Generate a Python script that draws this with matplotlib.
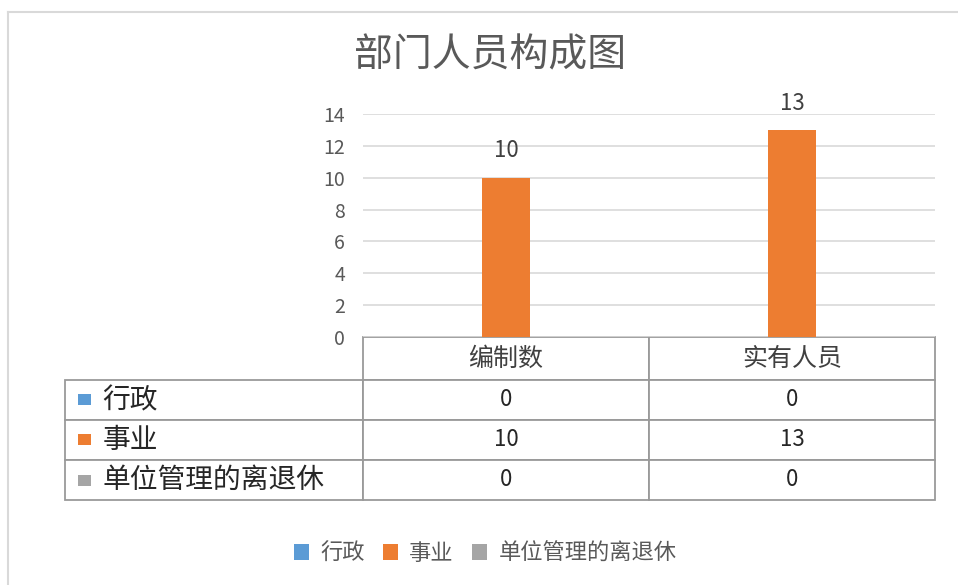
import matplotlib
matplotlib.use("Agg")
import matplotlib.pyplot as plt
import numpy as np
from matplotlib.patches import Rectangle
from matplotlib.lines import Line2D

plt.rcParams['font.family'] = ['Noto Sans CJK SC', 'DejaVu Sans']

# ---- data ----
title = "部门人员构成图"
categories = ["编制数", "实有人员"]
series_names = ["行政", "事业", "单位管理的离退休"]
xingzheng = [0, 0]
shiye = [10, 13]
lituixiu = [0, 0]
series_values = [xingzheng, shiye, lituixiu]
series_colors = ["#5B9BD5", "#ED7D31", "#A5A5A5"]
yticks = [0, 2, 4, 6, 8, 10, 12, 14]

W, H = 958, 585
fig = plt.figure(figsize=(W / 100, H / 100), dpi=100)

def fx(px):
    return px / W

def fy(py):
    return 1 - py / H

# axes area in pixels
ax_l, ax_r, ax_t, ax_b = 363, 935, 114, 337
ax = fig.add_axes([fx(ax_l), fy(ax_b), fx(ax_r) - fx(ax_l), fy(ax_t) - fy(ax_b)])

x = np.arange(len(categories))
bw = 0.165
containers = []
for i, (vals, col) in enumerate(zip(series_values, series_colors)):
    c = ax.bar(x + (i - 1) * bw, vals, width=bw, color=col, label=series_names[i], zorder=3)
    containers.append(c)

ax.bar_label(containers[1], labels=[str(v) for v in shiye], padding=11,
             fontsize=16, color="#404040")

ax.set_xlim(-0.5, len(categories) - 0.5)
ax.set_ylim(0, 14)
ax.set_yticks(yticks)
ax.set_yticklabels([str(t) for t in yticks], fontsize=14, color="#595959")
ax.tick_params(axis='y', length=0, pad=13)
ax.set_xticks([])
for s in ax.spines.values():
    s.set_visible(False)
ax.yaxis.grid(True, color="#D9D9D9", linewidth=1.2, zorder=0)
ax.set_axisbelow(True)

# ---- data table ----
tbl_l, tbl_b = 65, 500
colw = [298, 286, 286]
rowh = [43, 40, 40, 40]
axw_px = ax_r - ax_l
axh_px = ax_b - ax_t
bx0 = (tbl_l - ax_l) / axw_px
bw_ = (ax_r - tbl_l) / axw_px
by0 = (ax_b - tbl_b) / axh_px
bh = (tbl_b - ax_b) / axh_px

cell_text = [[name] + [str(v) for v in vals] for name, vals in zip(series_names, series_values)]
tbl = ax.table(cellText=cell_text, colLabels=[""] + categories,
               colWidths=[c / sum(colw) for c in colw],
               cellLoc='center', bbox=[bx0, by0, bw_, bh])
tbl.auto_set_font_size(False)
for (r, c), cell in tbl.get_celld().items():
    cell.set_edgecolor("#9A9A9A")
    cell.set_linewidth(1.3)
    cell.set_height(rowh[r])
    t = cell.get_text()
    t.set_color("#262626")
    if r == 0:
        t.set_fontsize(18)
        t.set_color("#404040")
        if c == 0:
            cell.visible_edges = ""
    elif c == 0:
        t.set_fontsize(20)
        t.set_ha('left')
        cell._loc = 'left'
        cell.PAD = 0.125
    else:
        t.set_fontsize(16)

# colored squares before row labels
for i, col in enumerate(series_colors):
    top_px = ax_b + rowh[0] + sum(rowh[1:1 + i])
    cy_px = top_px + rowh[i + 1] / 2
    sq_w, sq_h = 13, 11
    ax.add_patch(Rectangle(((78 - ax_l) / axw_px, (ax_b - cy_px - sq_h / 2) / axh_px),
                           sq_w / axw_px, sq_h / axh_px, transform=ax.transAxes,
                           facecolor=col, edgecolor='none', clip_on=False))

# title
fig.text(fx(490), fy(55), title, ha='center', va='center', fontsize=28, color="#595959")

# legend
handles = [Rectangle((0, 0), 1, 1, facecolor=c, edgecolor='none') for c in series_colors]
leg = fig.legend(handles, series_names, loc='center', bbox_to_anchor=(fx(485), fy(553)),
                 ncol=3, frameon=False, fontsize=16, handlelength=0.7, handleheight=0.7,
                 handletextpad=0.5, columnspacing=0.8)
for t in leg.get_texts():
    t.set_color("#595959")

# outer chart border
fig.add_artist(Line2D([fx(8), 1.0], [fy(12), fy(12)], color="#D9D9D9", lw=1.5, transform=fig.transFigure))
fig.add_artist(Line2D([fx(8), fx(8)], [fy(12), 0.0], color="#D9D9D9", lw=1.5, transform=fig.transFigure))

fig.savefig("out.png", dpi=100, facecolor="white")
